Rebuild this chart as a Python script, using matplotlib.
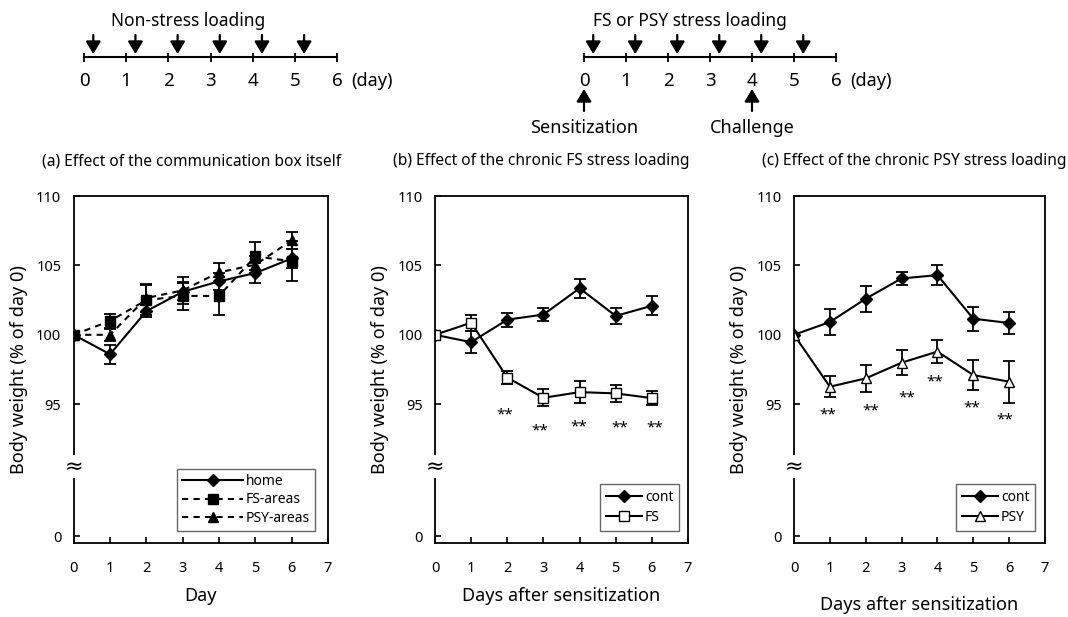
import matplotlib
matplotlib.use('Agg')
import matplotlib.pyplot as plt

plt.rcParams['font.family'] = ['Noto Sans', 'DejaVu Sans']

W, H = 1068, 617

# ---------------- data ----------------
days = [0, 1, 2, 3, 4, 5, 6]

# (a) effect of the communication box itself
home_mean = [100, 98.6, 101.7, 103.1, 103.85, 104.45, 105.5]
home_err = [0, 0.7, 0.45, 0.6, 0.6, 0.7, 0.7]
fs_area_mean = [100, 101.0, 102.5, 102.8, 102.8, 105.65, 105.3]
fs_area_err = [0, 0.5, 1.1, 1.0, 1.4, 1.0, 1.45]
psy_area_mean = [100, 100.0, 102.65, 103.2, 104.5, 105.05, 106.8]
psy_area_err = [0, 0.45, 1.0, 1.0, 0.7, 0.6, 0.6]

# (b) chronic FS stress loading
b_cont_mean = [100, 99.47, 101.09, 101.46, 103.35, 101.36, 102.09]
b_cont_err = [0, 0.8, 0.5, 0.45, 0.67, 0.57, 0.68]
fs_mean = [100, 100.87, 96.92, 95.46, 95.87, 95.78, 95.44]
fs_err = [0, 0.57, 0.5, 0.6, 0.77, 0.6, 0.5]
fs_sig_days = [1.94, 2.9, 3.99, 5.1, 6.09]
fs_sig_y = [94.25, 93.05, 93.4, 93.3, 93.3]

# (c) chronic PSY stress loading
c_cont_mean = [100, 100.92, 102.6, 104.06, 104.3, 101.16, 100.85]
c_cont_err = [0, 0.95, 0.93, 0.5, 0.72, 0.87, 0.78]
psy_mean = [100, 96.26, 96.86, 97.99, 98.79, 97.1, 96.62]
psy_err = [0, 0.75, 1.0, 0.88, 0.8, 1.06, 1.5]
psy_sig_days = [0.95, 2.14, 3.14, 3.93, 4.95, 5.88]
psy_sig_y = [94.2, 94.5, 95.46, 96.6, 94.73, 93.84]

ytick_vals = [85.5, 95, 100, 105, 110]
ytick_labels = ['0', '95', '100', '105', '110']
xticks = [0, 1, 2, 3, 4, 5, 6, 7]

timeline_days = [0, 1, 2, 3, 4, 5, 6]
loading_days = [0, 1, 2, 3, 4, 5]
sensitization_day = 0
challenge_day = 4

# ---------------- figure ----------------
fig = plt.figure(figsize=(W / 100, H / 100), dpi=100)


def px_axes(left, top, right, bottom):
    return fig.add_axes([left / W, 1 - bottom / H, (right - left) / W, (bottom - top) / H])


def style_panel(ax):
    ax.set_xlim(0, 7)
    ax.set_ylim(85, 110)
    ax.set_xticks(xticks)
    ax.set_yticks(ytick_vals)
    ax.set_yticklabels(ytick_labels)
    ax.tick_params(direction='in', length=4, width=1.2, labelsize=10.5, colors='black')
    ax.tick_params(axis='x', pad=13)
    ax.tick_params(axis='y', pad=9)
    for s in ['top', 'right', 'bottom']:
        ax.spines[s].set_linewidth(1.3)
    ax.spines['left'].set_visible(False)
    # broken left axis
    ax.plot([0, 0], [85, 89.6], color='black', lw=1.3, clip_on=False, zorder=5)
    ax.plot([0, 0], [91.4, 110], color='black', lw=1.3, clip_on=False, zorder=5)
    ax.text(0, 90.45, '\u2248', rotation=0, ha='center', va='center', fontsize=16,
            family='DejaVu Sans')
    ax.set_ylabel('Body weight (% of day 0)', fontsize=13, labelpad=6)


eb_kw = dict(color='black', capsize=4, elinewidth=1.3, capthick=1.3, lw=1.5)
leg_kw = dict(loc='upper right', borderaxespad=0, fontsize=10, handletextpad=0.2,
              fancybox=False, edgecolor='#666666', framealpha=1)

# ---- panel (a)
ax_a = px_axes(73.7, 196, 328, 543)
e1 = ax_a.errorbar(days, home_mean, yerr=home_err, marker='D', ms=6, mfc='black',
                   ls='-', **eb_kw)
e2 = ax_a.errorbar(days, fs_area_mean, yerr=fs_area_err, marker='s', ms=7, mfc='black',
                   ls=(0, (3, 2.5)), **eb_kw)
e3 = ax_a.errorbar(days, psy_area_mean, yerr=psy_area_err, marker='^', ms=7, mfc='black',
                   ls=(0, (3, 2.5)), **eb_kw)
style_panel(ax_a)
ax_a.set_xlabel('Day', fontsize=13, labelpad=8)
ax_a.text(0.465, 1.10, '(a) Effect of the communication box itself', transform=ax_a.transAxes,
          ha='center', va='center', fontsize=11.2)
leg = ax_a.legend([e1.lines[0], e2.lines[0], e3.lines[0]], ['home', 'FS-areas', 'PSY-areas'],
                  bbox_to_anchor=(0.949, 0.213), handlelength=4.4, labelspacing=0.25,
                  borderpad=0.35, **leg_kw)
leg.get_frame().set_linewidth(1.0)

# ---- panel (b)
ax_b = px_axes(435, 196, 688, 543)
e1 = ax_b.errorbar(days, b_cont_mean, yerr=b_cont_err, marker='D', ms=6, mfc='black',
                   ls='-', **eb_kw)
e2 = ax_b.errorbar(days, fs_mean, yerr=fs_err, marker='s', ms=7, mfc='white',
                   ls='-', **eb_kw)
for xd, yd in zip(fs_sig_days, fs_sig_y):
    ax_b.text(xd, yd, '**', ha='center', va='center', fontsize=11)
style_panel(ax_b)
ax_b.set_xlabel('Days after sensitization', fontsize=13, labelpad=8)
ax_b.text(0.419, 1.10, '(b) Effect of the chronic FS stress loading', transform=ax_b.transAxes,
          ha='center', va='center', fontsize=11.2)
leg = ax_b.legend([e1.lines[0], e2.lines[0]], ['cont', 'FS'], bbox_to_anchor=(0.964, 0.170),
                  handlelength=2.6, labelspacing=0.4, borderpad=0.4, **leg_kw)
leg.get_frame().set_linewidth(1.0)

# ---- panel (c)
ax_c = px_axes(794, 196, 1045, 543)
e1 = ax_c.errorbar(days, c_cont_mean, yerr=c_cont_err, marker='D', ms=6, mfc='black',
                   ls='-', **eb_kw)
e2 = ax_c.errorbar(days, psy_mean, yerr=psy_err, marker='^', ms=7, mfc='white',
                   ls='-', **eb_kw)
for xd, yd in zip(psy_sig_days, psy_sig_y):
    ax_c.text(xd, yd, '**', ha='center', va='center', fontsize=11)
style_panel(ax_c)
ax_c.set_xlabel('Days after sensitization', fontsize=13, labelpad=14)
ax_c.text(0.478, 1.10, '(c) Effect of the chronic PSY stress loading', transform=ax_c.transAxes,
          ha='center', va='center', fontsize=11.2)
leg = ax_c.legend([e1.lines[0], e2.lines[0]], ['cont', 'PSY'], bbox_to_anchor=(0.96, 0.170),
                  handlelength=2.6, labelspacing=0.4, borderpad=0.4, **leg_kw)
leg.get_frame().set_linewidth(1.0)

# ---------------- timelines ----------------
arrow_props = dict(arrowstyle='-|>,head_width=0.45,head_length=0.75', color='black', lw=1.6,
                   shrinkA=0, shrinkB=0, mutation_scale=10)


def timeline(left, right, title, title_x, with_events):
    ax = px_axes(left, 0, right, 140)
    ax.set_xlim(0, 6)
    ax.set_ylim(140, 0)
    ax.axis('off')
    ax.plot([timeline_days[0], timeline_days[-1]], [57, 57], color='black', lw=1.5, clip_on=False)
    ax.vlines(timeline_days, 52.5, 61.5, color='black', lw=1.3, clip_on=False)
    for d in timeline_days:
        ax.text(d, 81, str(d), ha='center', va='center', fontsize=13.5)
    ax.annotate('(day)', xy=(timeline_days[-1], 81), xytext=(10, 0), textcoords='offset points',
                ha='left', va='center', fontsize=13)
    for d in loading_days:
        ax.annotate('', xy=(d + 0.22, 54), xytext=(d + 0.22, 35), arrowprops=arrow_props,
                    annotation_clip=False)
    ax.text(title_x, 21, title, ha='center', va='center', fontsize=12.5)
    if with_events:
        for d, lab in [(sensitization_day, 'Sensitization'), (challenge_day, 'Challenge')]:
            ax.annotate('', xy=(d, 89), xytext=(d, 111), arrowprops=arrow_props,
                        annotation_clip=False)
            ax.text(d, 128, lab, ha='center', va='center', fontsize=13)
    return ax


timeline(84, 337, 'Non-stress loading', 2.46, False)
timeline(584, 836, 'FS or PSY stress loading', 2.52, True)

fig.savefig('out.png', dpi=100)
